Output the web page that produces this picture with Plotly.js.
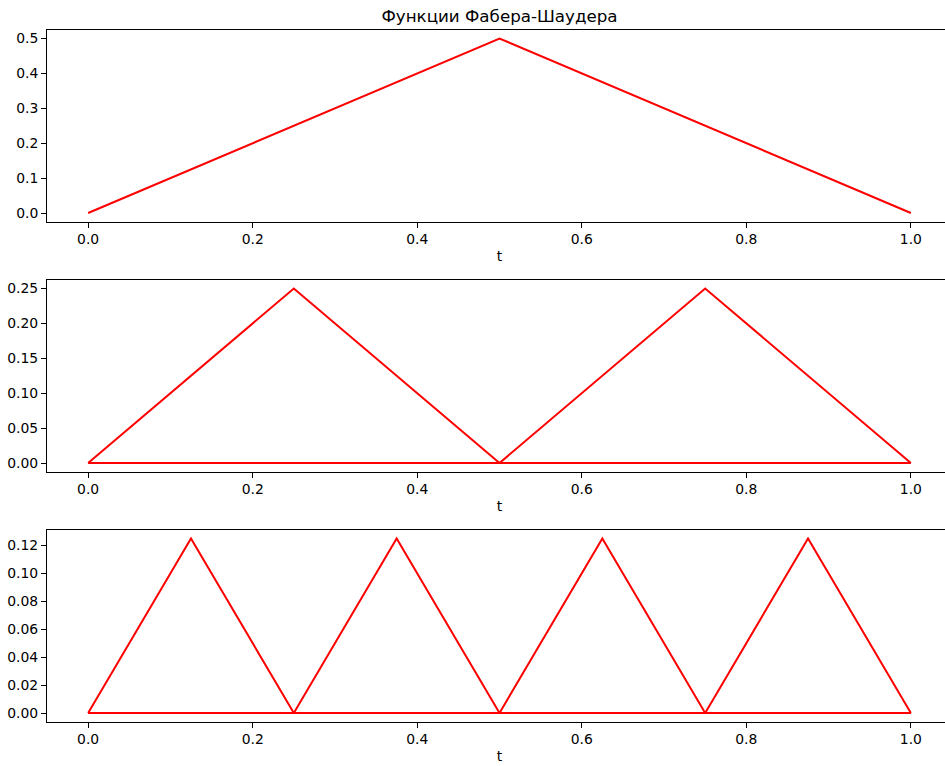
<!DOCTYPE html>
<html>
<head>
<meta charset="utf-8">
<script src="https://cdn.plot.ly/plotly-3.0.1.min.js"></script>
<style>
html, body { margin: 0; padding: 0; overflow: hidden; background: #fff; }
#chart { width: 952px; height: 766px; }
</style>
</head>
<body>
<div id="chart"></div>
<script>
// Level 0 (one function)
const tLevel0 = [0, 0.5, 1];
const psi0_0 = [0, 0.5, 0];

// Level 1 (two functions)
const tLevel1 = [0, 0.25, 0.5, 0.75, 1];
const psi1_0 = [0, 0.25, 0, 0, 0];
const psi1_1 = [0, 0, 0, 0.25, 0];

// Level 2 (four functions)
const tLevel2 = [0, 0.125, 0.25, 0.375, 0.5, 0.625, 0.75, 0.875, 1];
const psi2_0 = [0, 0.125, 0, 0, 0, 0, 0, 0, 0];
const psi2_1 = [0, 0, 0, 0.125, 0, 0, 0, 0, 0];
const psi2_2 = [0, 0, 0, 0, 0, 0.125, 0, 0, 0];
const psi2_3 = [0, 0, 0, 0, 0, 0, 0, 0.125, 0];

const xTickVals = [0, 0.2, 0.4, 0.6, 0.8, 1.0];
const yTicks1 = [0, 0.1, 0.2, 0.3, 0.4, 0.5];
const yTicks2 = [0, 0.05, 0.10, 0.15, 0.20, 0.25];
const yTicks3 = [0, 0.02, 0.04, 0.06, 0.08, 0.10, 0.12];

const titleText = 'Функции Фабера-Шаудера';
const xLabel = 't';

const lineStyle = {color: '#ff0000', width: 2};
function tr(x, y, ax) {
  return {x: x, y: y, type: 'scatter', mode: 'lines', line: lineStyle,
          xaxis: ax[0], yaxis: ax[1], showlegend: false, hoverinfo: 'skip'};
}

const traces = [
  tr(tLevel0, psi0_0, ['x', 'y']),
  tr(tLevel1, psi1_0, ['x2', 'y2']),
  tr(tLevel1, psi1_1, ['x2', 'y2']),
  tr(tLevel2, psi2_0, ['x3', 'y3']),
  tr(tLevel2, psi2_1, ['x3', 'y3']),
  tr(tLevel2, psi2_2, ['x3', 'y3']),
  tr(tLevel2, psi2_3, ['x3', 'y3'])
];

const fontFam = 'DejaVu Sans, sans-serif';
const H = 766;
function dom(top, bottom) { return [1 - bottom / H, 1 - top / H]; }

function xAx(anchor) {
  return {
    anchor: anchor, domain: [0, 1], range: [-0.05, 1.05],
    tickvals: xTickVals, tickformat: '.1f',
    showgrid: false, zeroline: false,
    showline: true, mirror: true, linecolor: '#000', linewidth: 1,
    ticks: 'outside', ticklen: 5, tickwidth: 1, tickcolor: '#000',
    tickfont: {family: fontFam, size: 13.9, color: '#000'},
    title: {text: xLabel, font: {family: fontFam, size: 13.9, color: '#000'}, standoff: 4}
  };
}
function yAx(anchor, domain, range, vals, fmt) {
  return {
    anchor: anchor, domain: domain, range: range,
    tickvals: vals, tickformat: fmt,
    showgrid: false, zeroline: false,
    showline: true, mirror: true, linecolor: '#000', linewidth: 1,
    ticks: 'outside', ticklen: 5, tickwidth: 1, tickcolor: '#000',
    tickfont: {family: fontFam, size: 13.9, color: '#000'}
  };
}

const layout = {
  width: 952, height: H,
  margin: {l: 47, r: 0, t: 0, b: 0},
  paper_bgcolor: '#fff', plot_bgcolor: '#fff',
  font: {family: fontFam, color: '#000'},
  title: {text: titleText, font: {family: fontFam, size: 16.7, color: '#000'},
          x: 0.5, xref: 'paper', y: 1 - 16 / H, yref: 'container', yanchor: 'middle'},
  xaxis: xAx('y'),
  xaxis2: xAx('y2'),
  xaxis3: xAx('y3'),
  yaxis: yAx('x', dom(29.75, 221.75), [-0.025, 0.525], yTicks1, '.1f'),
  yaxis2: yAx('x2', dom(279.75, 471.75), [-0.0125, 0.2625], yTicks2, '.2f'),
  yaxis3: yAx('x3', dom(529.75, 721.75), [-0.00625, 0.13125], yTicks3, '.2f')
};

Plotly.newPlot('chart', traces, layout, {staticPlot: true, displayModeBar: false});
</script>
</body>
</html>
